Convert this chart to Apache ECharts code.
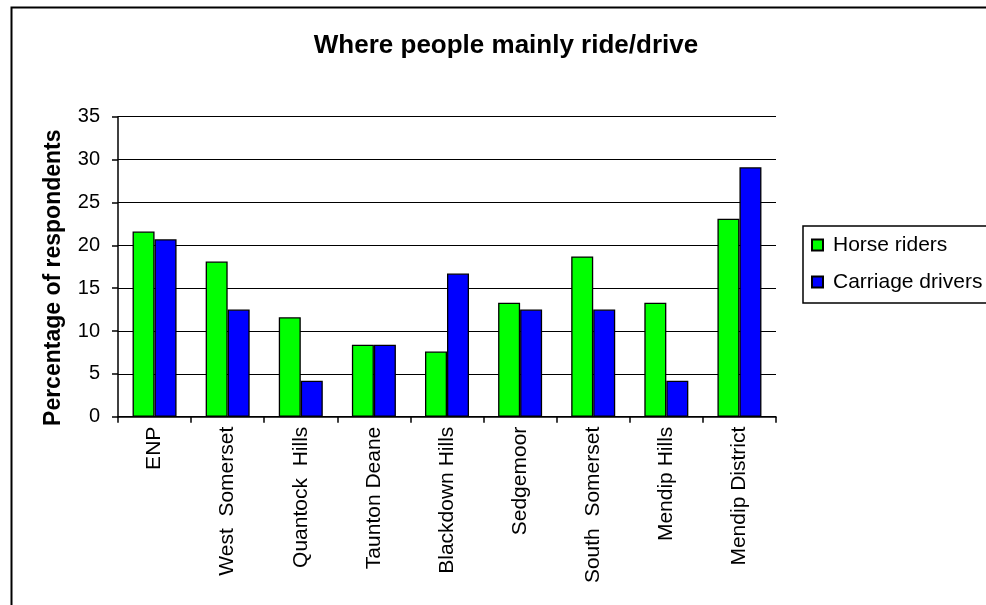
<!DOCTYPE html>
<html>
<head>
<meta charset="utf-8">
<script src="https://cdn.jsdelivr.net/npm/echarts@6/dist/echarts.min.js"></script>
<style>
html,body{margin:0;padding:0;background:#fff;}
#chart{width:986px;height:605px;}
</style>
</head>
<body>
<div id="chart"></div>
<script>
var categories = ['ENP', 'West  Somerset', 'Quantock  Hills', 'Taunton Deane', 'Blackdown Hills', 'Sedgemoor', 'South  Somerset', 'Mendip Hills', 'Mendip District'];
var horseRiders = [21.6, 18.1, 11.6, 8.4, 7.6, 13.3, 18.7, 13.3, 23.1];
var carriageDrivers = [20.7, 12.5, 4.2, 8.4, 16.7, 12.5, 12.5, 4.2, 29.1];
var yTicks = [0, 5, 10, 15, 20, 25, 30, 35];

var FONT = '"Liberation Sans", Arial, sans-serif';
var chart = echarts.init(document.getElementById('chart'), null, {renderer: 'canvas'});
chart.setOption({
  backgroundColor: '#ffffff',
  animation: false,
  title: {
    text: 'Where people mainly ride/drive',
    left: 501, top: 28, textAlign: 'center',
    textStyle: {fontFamily: FONT, fontSize: 26, fontWeight: 'bold', color: '#000'}
  },
  graphic: [{
    type: 'rect', left: 9, top: 5,
    shape: {width: 1000, height: 640},
    style: {fill: 'none', stroke: '#000', lineWidth: 2}
  }],
  legend: {
    orient: 'vertical', left: 803, top: 226,
    padding: [8, 40, 10, 8],
    itemGap: 15,
    itemWidth: 11, itemHeight: 11,
    borderColor: '#000', borderWidth: 1.5,
    icon: 'rect',
    textStyle: {fontFamily: FONT, fontSize: 21, lineHeight: 22, color: '#000', padding: [0, 0, 0, 5]},
    data: ['Horse riders', 'Carriage drivers']
  },
  grid: {left: 118, right: 210, top: 116.7, bottom: 188.3, containLabel: false},
  xAxis: {
    type: 'category', data: categories,
    axisLine: {show: true, lineStyle: {color: '#000', width: 1.5}},
    axisTick: {show: true, length: 6, lineStyle: {color: '#000', width: 1.5}},
    axisLabel: {rotate: 90, margin: 10, fontFamily: FONT, fontSize: 21, color: '#000', interval: 0}
  },
  yAxis: {
    type: 'value', min: 0, max: 35, interval: 5,
    name: 'Percentage of respondents', nameLocation: 'middle', nameGap: 53,
    nameTextStyle: {fontFamily: FONT, fontSize: 23, fontWeight: 'bold', color: '#000', padding: [0, 22, 0, 0]},
    axisLine: {show: true, lineStyle: {color: '#000', width: 1.5}},
    axisTick: {show: true, length: 6, lineStyle: {color: '#000', width: 1.5}},
    axisLabel: {margin: 18, fontFamily: FONT, fontSize: 20, color: '#000',
      formatter: function (v) { return yTicks.indexOf(v) >= 0 ? String(v) : ''; }},
    splitLine: {show: true, lineStyle: {color: '#000', width: 1.2}}
  },
  series: [{
    name: 'Horse riders', type: 'bar', data: horseRiders,
    barWidth: 22, barGap: '0%',
    itemStyle: {color: '#00ff00', borderColor: '#000', borderWidth: 1.3}
  }, {
    name: 'Carriage drivers', type: 'bar', data: carriageDrivers,
    barWidth: 22, barGap: '0%',
    itemStyle: {color: '#0000ff', borderColor: '#000', borderWidth: 1.3}
  }]
});
</script>
</body>
</html>
